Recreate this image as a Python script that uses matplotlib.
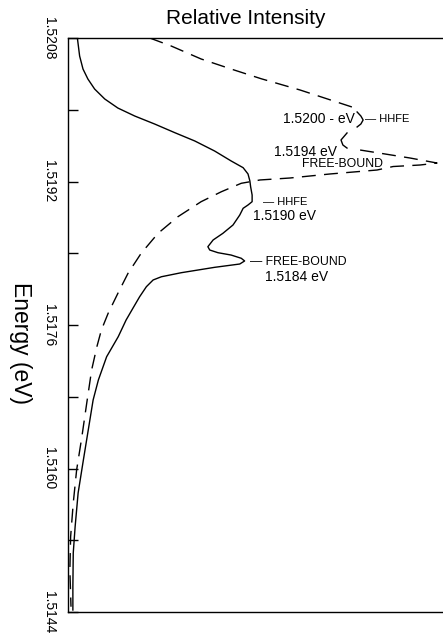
import matplotlib
matplotlib.use("Agg")
import matplotlib.pyplot as plt
import numpy as np

plt.rcParams["font.family"] = ["Liberation Sans", "DejaVu Sans"]

# solid curve (measured spectrum), energy in eV vs relative intensity
solid_energy = [1.52080, 1.520599, 1.520454, 1.520343, 1.520231, 1.520120, 1.520019,
                1.519930, 1.519841, 1.519744, 1.519652, 1.519540, 1.519429, 1.519354,
                1.519284, 1.519206, 1.519142, 1.519049, 1.518975, 1.518938, 1.518901,
                1.518826, 1.518715, 1.518622, 1.518548, 1.518473, 1.518436, 1.518406,
                1.518380, 1.518344, 1.518314, 1.518280, 1.518243, 1.518183, 1.518138,
                1.518102, 1.518027, 1.517915, 1.517786, 1.517656, 1.517470, 1.517246,
                1.516987, 1.516764, 1.516429, 1.516095, 1.515727, 1.515351, 1.515058,
                1.514682, 1.514422]
solid_intensity = [0.025, 0.031, 0.040, 0.053, 0.071, 0.098, 0.133,
                   0.178, 0.231, 0.285, 0.338, 0.391, 0.435, 0.467,
                   0.480, 0.485, 0.487, 0.491, 0.491, 0.480, 0.467,
                   0.458, 0.440, 0.413, 0.387, 0.373, 0.378, 0.400,
                   0.435, 0.462, 0.471, 0.458, 0.391, 0.302, 0.249,
                   0.227, 0.209, 0.191, 0.173, 0.155, 0.134, 0.103,
                   0.081, 0.067, 0.054, 0.041, 0.027, 0.019, 0.014,
                   0.013, 0.013]

# dashed curve
dash_energy = [1.52080, 1.520711, 1.520566, 1.520454, 1.520346, 1.520220, 1.520031,
               1.519975, 1.519930, 1.519886, 1.519841, 1.519808,
               1.519741, 1.519663, 1.519607, 1.519573,
               1.519551, 1.519507, 1.519462, 1.519406, 1.519384, 1.519367, 1.519328,
               1.519284, 1.519239, 1.519217, 1.519180, 1.519086, 1.518975, 1.518807,
               1.518622, 1.518399, 1.518176, 1.517953, 1.517730, 1.517544, 1.517358,
               1.517098, 1.516730, 1.516354, 1.515983, 1.515615, 1.515239, 1.514868,
               1.514459]
dash_intensity = [0.218, 0.275, 0.355, 0.435, 0.515, 0.619, 0.757,
                  0.771, 0.781, 0.787, 0.781, 0.771,
                  0.744, 0.728, 0.733, 0.744,
                  0.779, 0.845, 0.912, 0.984, 0.939, 0.867, 0.824,
                  0.699, 0.592, 0.512, 0.462, 0.409, 0.355, 0.293,
                  0.240, 0.195, 0.160, 0.133, 0.107, 0.089, 0.077,
                  0.063, 0.050, 0.037, 0.023, 0.014, 0.007, 0.005,
                  0.008]

major_ticks = np.arange(1.5144, 1.52081, 0.0008)
tick_labels = ["1.5144", "", "1.5160", "", "1.5176", "", "1.5192", "", "1.5208"]

fig = plt.figure(figsize=(4.43, 6.34), dpi=100)
ax = fig.add_axes([68 / 443, 22 / 634, 375 / 443, 574 / 634])

lw = 1.0
ax.plot(solid_intensity, solid_energy, color="black", lw=lw)
# dashed curve, with the two small shoulders drawn as solid brackets
ax.plot(dash_intensity[:7], dash_energy[:7], color="black", lw=lw, linestyle=(0, (10, 6)))
ax.plot(dash_intensity[7:12], dash_energy[7:12], color="black", lw=lw)
ax.plot(dash_intensity[12:16], dash_energy[12:16], color="black", lw=lw)
ax.plot(dash_intensity[16:], dash_energy[16:], color="black", lw=lw, linestyle=(0, (10, 6)))

ax.set_xlim(0, 1)
ax.set_ylim(1.5144, 1.5208)
ax.spines["right"].set_visible(False)
for s in ["left", "top", "bottom"]:
    ax.spines[s].set_linewidth(1.0)
ax.set_xticks([])
ax.set_yticks(major_ticks)
ax.set_yticklabels(tick_labels, rotation=270, va="center", fontsize=10)
ax.tick_params(axis="y", direction="in", length=7, width=1.0, pad=9)

# annotations
ax.text(0.765, 1.51990, "1.5200 - eV", ha="right", va="center", fontsize=10)
ax.text(0.792, 1.51990, "\u2014 HHFE", ha="left", va="center", fontsize=8)
ax.text(0.717, 1.51953, "1.5194 eV", ha="right", va="center", fontsize=10)
ax.text(0.624, 1.51940, "FREE-BOUND", ha="left", va="center", fontsize=8.8)
ax.text(0.520, 1.51897, "\u2014 HHFE", ha="left", va="center", fontsize=8)
ax.text(0.493, 1.51882, "1.5190 eV", ha="left", va="center", fontsize=10)
ax.text(0.485, 1.51830, "\u2014 FREE-BOUND", ha="left", va="center", fontsize=8.8)
ax.text(0.525, 1.51814, "1.5184 eV", ha="left", va="center", fontsize=10)

fig.text(246 / 443, 1 - 18 / 634, "Relative Intensity", ha="center", va="center", fontsize=15)
fig.text(20 / 443, 1 - 343 / 634, "Energy (eV)", ha="center", va="center",
         rotation=270, fontsize=16.5)

fig.savefig("out.png", dpi=100)
